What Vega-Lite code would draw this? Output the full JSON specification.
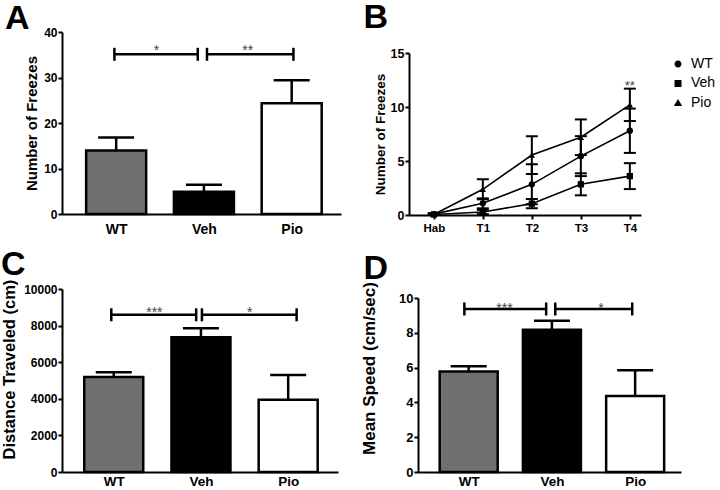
{
  "$schema": "https://vega.github.io/schema/vega-lite/v6.json",
  "padding": {"left": 1, "top": 1, "right": 0, "bottom": 0},
  "spacing": 11,
  "resolve": {"scale": {"shape": "independent"}, "legend": {"shape": "independent"}},
  "config": {
    "view": {"stroke": null},
    "font": "Liberation Sans",
    "title": {"fontSize": 34, "fontWeight": "bold", "anchor": "start", "frame": "group", "color": "black", "font": "Liberation Sans"},
    "axis": {"grid": false, "labelOverlap": false, "labelSeparation": 0, "domainColor": "black", "domainWidth": 2, "tickColor": "black", "tickWidth": 2, "tickSize": 4, "labelColor": "black", "labelFont": "Liberation Sans", "labelFontWeight": "bold", "titleColor": "black", "titleFont": "Liberation Sans", "titleFontWeight": "bold", "labelPadding": 1},
    "axisY": {"labelOverlap": false},
    "legend": {"labelFont": "Liberation Sans"}
  },
  "vconcat": [
    {
      "spacing": 22,
      "resolve": {"scale": {"shape": "independent"}, "legend": {"shape": "independent"}},
      "hconcat": [
        {
          "title": {"text": "A", "dx": -57, "offset": -10},
          "width": 279, "height": 182,
          "data": {"values": [
            {"group": "WT", "idx": 1, "mean": 13.95, "hi": 16.8},
            {"group": "Veh", "idx": 2, "mean": 4.9, "hi": 6.43},
            {"group": "Pio", "idx": 3, "mean": 24.35, "hi": 29.4}
          ]},
          "layer": [
            {"mark": {"type": "bar", "orient": "vertical", "width": 60, "stroke": "black", "strokeWidth": 2.5},
             "encoding": {
               "x": {"field": "idx", "type": "quantitative", "title": null, "scale": {"domain": [0.44, 3.505], "nice": false, "zero": false},
                     "axis": {"values": [1, 2, 3], "tickCount": 10, "labelExpr": "datum.value == 1 ? 'WT' : datum.value == 2 ? 'Veh' : 'Pio'", "ticks": false, "labelFontSize": 14, "labelPadding": 8}},
               "y": {"field": "mean", "type": "quantitative", "stack": null, "title": "Number of Freezes", "scale": {"domain": [0, 40], "nice": false},
                     "axis": {"values": [0, 10, 20, 30, 40], "tickCount": 10, "titleFontSize": 15, "labelFontSize": 12, "titlePadding": 4}},
               "fill": {"field": "group", "type": "nominal", "scale": {"domain": ["WT", "Veh", "Pio"], "range": ["#707070", "#000000", "#ffffff"]}, "legend": null}
             }},
            {"mark": {"type": "rule", "strokeWidth": 2.5, "color": "black"},
             "encoding": {"x": {"field": "idx", "type": "quantitative", "title": null}, "y": {"field": "mean", "type": "quantitative", "title": "Number of Freezes"}, "y2": {"field": "hi"}}},
            {"mark": {"type": "tick", "orient": "horizontal", "size": 36, "thickness": 2.5, "color": "black", "opacity": 1},
             "encoding": {"x": {"field": "idx", "type": "quantitative", "title": null}, "y": {"field": "hi", "type": "quantitative", "title": "Number of Freezes"}}},
            {"data": {"values": [
              {"x1": 0.98, "x2": 1.93, "xs": 1.46, "y": 35.1, "label": "*"},
              {"x1": 2.035, "x2": 3.02, "xs": 2.5, "y": 35.1, "label": "**"}
             ]},
             "layer": [
               {"mark": {"type": "rule", "strokeWidth": 2.5, "color": "black"},
                "encoding": {"x": {"field": "x1", "type": "quantitative", "title": null}, "x2": {"field": "x2"}, "y": {"field": "y", "type": "quantitative", "title": "Number of Freezes"}}},
               {"mark": {"type": "tick", "orient": "vertical", "size": 13, "thickness": 2.5, "color": "black", "opacity": 1},
                "encoding": {"x": {"field": "x1", "type": "quantitative", "title": null}, "y": {"field": "y", "type": "quantitative", "title": "Number of Freezes"}}},
               {"mark": {"type": "tick", "orient": "vertical", "size": 13, "thickness": 2.5, "color": "black", "opacity": 1},
                "encoding": {"x": {"field": "x2", "type": "quantitative", "title": null}, "y": {"field": "y", "type": "quantitative", "title": "Number of Freezes"}}},
               {"mark": {"type": "text", "fontSize": 14, "color": "#444444", "baseline": "alphabetic", "dy": 1},
                "encoding": {"x": {"field": "xs", "type": "quantitative", "title": null}, "y": {"field": "y", "type": "quantitative", "title": "Number of Freezes"}, "text": {"field": "label"}}}
             ]}
          ]
        },
        {
          "spacing": 0,
          "resolve": {"scale": {"shape": "independent"}, "legend": {"shape": "independent"}},
          "vconcat": [
            {
              "title": {"text": "B", "dx": -45.5, "offset": -3},
              "width": 232, "height": 14.5,
              "data": {"values": []},
              "mark": "point",
              "encoding": {}
            },
            {
              "width": 232, "height": 162,
              "resolve": {"scale": {"shape": "independent"}, "legend": {"shape": "independent"}},
              "data": {"values": [
                {"group": "WT", "time": "Hab", "mean": 0.08, "lo": 0.0, "hi": 0.16},
                {"group": "WT", "time": "T1", "mean": 1.08, "lo": 0.62, "hi": 1.54},
                {"group": "WT", "time": "T2", "mean": 2.84, "lo": 0.99, "hi": 4.69},
                {"group": "WT", "time": "T3", "mean": 5.45, "lo": 3.6, "hi": 7.3},
                {"group": "WT", "time": "T4", "mean": 7.8, "lo": 5.75, "hi": 9.85},
                {"group": "Veh", "time": "Hab", "mean": 0.05, "lo": 0.0, "hi": 0.12},
                {"group": "Veh", "time": "T1", "mean": 0.28, "lo": 0.08, "hi": 0.48},
                {"group": "Veh", "time": "T2", "mean": 1.05, "lo": 0.63, "hi": 1.47},
                {"group": "Veh", "time": "T3", "mean": 2.84, "lo": 1.82, "hi": 3.86},
                {"group": "Veh", "time": "T4", "mean": 3.6, "lo": 2.4, "hi": 4.8},
                {"group": "Pio", "time": "Hab", "mean": 0.05, "lo": 0.0, "hi": 0.15},
                {"group": "Pio", "time": "T1", "mean": 2.38, "lo": 1.45, "hi": 3.31},
                {"group": "Pio", "time": "T2", "mean": 5.55, "lo": 3.8, "hi": 7.3},
                {"group": "Pio", "time": "T3", "mean": 7.2, "lo": 5.55, "hi": 8.85},
                {"group": "Pio", "time": "T4", "mean": 10.2, "lo": 8.7, "hi": 11.7}
              ]},
              "layer": [
                {"mark": {"type": "rule", "strokeWidth": 2, "color": "black"},
                 "encoding": {
                   "x": {"field": "time", "type": "ordinal", "sort": ["Hab", "T1", "T2", "T3", "T4"], "title": null,
                         "scale": {"type": "point", "padding": 0.367, "align": 0.69},
                         "axis": {"labelFontSize": 11.5, "labelPadding": 3, "tickSize": 4, "labelAngle": 0}},
                   "y": {"field": "lo", "type": "quantitative", "title": "Number of Freezes", "scale": {"domain": [0, 15], "nice": false},
                         "axis": {"values": [0, 5, 10, 15], "tickCount": 10, "titleFontSize": 13.5, "labelFontSize": 12.5, "titlePadding": 3}},
                   "y2": {"field": "hi"}}},
                {"mark": {"type": "tick", "orient": "horizontal", "size": 12, "thickness": 2, "color": "black", "opacity": 1},
                 "encoding": {"x": {"field": "time", "type": "ordinal", "title": null}, "y": {"field": "lo", "type": "quantitative", "title": "Number of Freezes"}}},
                {"mark": {"type": "tick", "orient": "horizontal", "size": 12, "thickness": 2, "color": "black", "opacity": 1},
                 "encoding": {"x": {"field": "time", "type": "ordinal", "title": null}, "y": {"field": "hi", "type": "quantitative", "title": "Number of Freezes"}}},
                {"mark": {"type": "line", "strokeWidth": 1.6, "color": "black"},
                 "encoding": {"x": {"field": "time", "type": "ordinal", "title": null}, "y": {"field": "mean", "type": "quantitative", "title": "Number of Freezes"}, "detail": {"field": "group"}}},
                {"mark": {"type": "point", "filled": true, "color": "black", "opacity": 1, "size": 40},
                 "encoding": {
                   "x": {"field": "time", "type": "ordinal", "title": null},
                   "y": {"field": "mean", "type": "quantitative", "title": "Number of Freezes"},
                   "shape": {"field": "group", "type": "nominal", "scale": {"domain": ["WT", "Veh", "Pio"], "range": ["circle", "square", "triangle-up"]}, "legend": null}
                 }},
                {"mark": {"type": "point", "fill": "black", "stroke": "black", "strokeWidth": 1.5, "opacity": 0, "size": 40},
                 "encoding": {
                   "x": {"field": "time", "type": "ordinal", "title": null},
                   "y": {"field": "mean", "type": "quantitative", "title": "Number of Freezes"},
                   "shape": {"field": "group", "type": "nominal",
                     "scale": {"domain": ["WT", "Veh", "Pio"], "range": ["M-1,0H1M-0.5,0A0.5,0.5,0,1,0,0.5,0A0.5,0.5,0,1,0,-0.5,0Z", "M-1,0H1M-0.5,-0.5H0.5V0.5H-0.5Z", "M-1,0H1M0,-0.55L0.6,0.45L-0.6,0.45Z"]},
                     "legend": {"title": null, "orient": "none", "legendX": 261, "legendY": 3, "padding": 0, "symbolSize": 196, "symbolStrokeWidth": 1.5, "symbolFillColor": "black", "symbolStrokeColor": "black", "symbolOpacity": 1, "labelFontSize": 14, "labelColor": "black", "labelOffset": 5, "rowPadding": 4.4,
                       "encode": {"symbols": {"update": {"stroke": {"value": "black"}, "strokeWidth": {"value": 1.5}, "fill": {"value": "black"}, "opacity": {"value": 1}}}}}}
                 }},
                {"data": {"values": [{"time": "T4", "y": 11.6, "label": "**"}]},
                 "mark": {"type": "text", "fontSize": 13, "color": "#444444", "baseline": "alphabetic", "dy": 0},
                 "encoding": {"x": {"field": "time", "type": "ordinal", "title": null}, "y": {"field": "y", "type": "quantitative", "title": "Number of Freezes"}, "text": {"field": "label"}}}
              ]
            }
          ]
        }
      ]
    },
    {
      "spacing": 22,
      "hconcat": [
        {
          "spacing": 0,
          "vconcat": [
            {
              "width": 276, "height": 1,
              "data": {"values": []},
              "mark": "point",
              "encoding": {}
            },
            {
              "title": {"text": "C", "dx": -61, "offset": -3},
              "width": 276, "height": 183,
              "data": {"values": [
                {"group": "WT", "idx": 1, "mean": 5190, "hi": 5450},
                {"group": "Veh", "idx": 2, "mean": 7370, "hi": 7860},
                {"group": "Pio", "idx": 3, "mean": 3950, "hi": 5300}
              ]},
              "layer": [
                {"mark": {"type": "bar", "orient": "vertical", "width": 59, "stroke": "black", "strokeWidth": 2.5},
                 "encoding": {
                   "x": {"field": "idx", "type": "quantitative", "title": null, "scale": {"domain": [0.464, 3.514], "nice": false, "zero": false},
                         "axis": {"values": [1, 2, 3], "tickCount": 10, "labelExpr": "datum.value == 1 ? 'WT' : datum.value == 2 ? 'Veh' : 'Pio'", "ticks": false, "labelFontSize": 13.5, "labelPadding": 2}},
                   "y": {"field": "mean", "type": "quantitative", "stack": null, "title": "Distance Traveled (cm)", "scale": {"domain": [0, 10000], "nice": false},
                         "axis": {"values": [0, 2000, 4000, 6000, 8000, 10000], "tickCount": 10, "format": "d", "labelOverlap": false, "titleFontSize": 16.5, "labelFontSize": 12, "titlePadding": 6, "titleY": 80}},
                   "fill": {"field": "group", "type": "nominal", "scale": {"domain": ["WT", "Veh", "Pio"], "range": ["#707070", "#000000", "#ffffff"]}, "legend": null}
                 }},
                {"mark": {"type": "rule", "strokeWidth": 2.5, "color": "black"},
                 "encoding": {"x": {"field": "idx", "type": "quantitative", "title": null}, "y": {"field": "mean", "type": "quantitative", "title": "Distance Traveled (cm)"}, "y2": {"field": "hi"}}},
                {"mark": {"type": "tick", "orient": "horizontal", "size": 36, "thickness": 2.5, "color": "black", "opacity": 1},
                 "encoding": {"x": {"field": "idx", "type": "quantitative", "title": null}, "y": {"field": "hi", "type": "quantitative", "title": "Distance Traveled (cm)"}}},
                {"data": {"values": [
                  {"x1": 0.972, "x2": 1.945, "xs": 1.466, "y": 8590, "label": "***"},
                  {"x1": 2.011, "x2": 3.097, "xs": 2.56, "y": 8590, "label": "*"}
                 ]},
                 "layer": [
                   {"mark": {"type": "rule", "strokeWidth": 2.5, "color": "black"},
                    "encoding": {"x": {"field": "x1", "type": "quantitative", "title": null}, "x2": {"field": "x2"}, "y": {"field": "y", "type": "quantitative", "title": "Distance Traveled (cm)"}}},
                   {"mark": {"type": "tick", "orient": "vertical", "size": 13, "thickness": 2.5, "color": "black", "opacity": 1},
                    "encoding": {"x": {"field": "x1", "type": "quantitative", "title": null}, "y": {"field": "y", "type": "quantitative", "title": "Distance Traveled (cm)"}}},
                   {"mark": {"type": "tick", "orient": "vertical", "size": 13, "thickness": 2.5, "color": "black", "opacity": 1},
                    "encoding": {"x": {"field": "x2", "type": "quantitative", "title": null}, "y": {"field": "y", "type": "quantitative", "title": "Distance Traveled (cm)"}}},
                   {"mark": {"type": "text", "fontSize": 14, "color": "#444444", "baseline": "alphabetic", "dy": 2},
                    "encoding": {"x": {"field": "xs", "type": "quantitative", "title": null}, "y": {"field": "y", "type": "quantitative", "title": "Distance Traveled (cm)"}, "text": {"field": "label"}}}
                 ]}
              ]
            }
          ]
        },
        {
          "spacing": 0,
          "vconcat": [
            {
              "width": 263, "height": 5,
              "data": {"values": []},
              "mark": "point",
              "encoding": {}
            },
            {
              "title": {"text": "D", "dx": -54.5, "offset": -4.5},
              "width": 263, "height": 174,
              "data": {"values": [
                {"group": "WT", "idx": 1, "mean": 5.77, "hi": 6.08},
                {"group": "Veh", "idx": 2, "mean": 8.17, "hi": 8.69},
                {"group": "Pio", "idx": 3, "mean": 4.37, "hi": 5.85}
              ]},
              "layer": [
                {"mark": {"type": "bar", "orient": "vertical", "width": 58, "stroke": "black", "strokeWidth": 2.5},
                 "encoding": {
                   "x": {"field": "idx", "type": "quantitative", "title": null, "scale": {"domain": [0.451, 3.491], "nice": false, "zero": false},
                         "axis": {"values": [1, 2, 3], "tickCount": 10, "labelExpr": "datum.value == 1 ? 'WT' : datum.value == 2 ? 'Veh' : 'Pio'", "ticks": false, "labelFontSize": 13.5, "labelPadding": 2}},
                   "y": {"field": "mean", "type": "quantitative", "stack": null, "title": "Mean Speed (cm/sec)", "scale": {"domain": [0, 10], "nice": false},
                         "axis": {"values": [0, 2, 4, 6, 8, 10], "tickCount": 10, "labelOverlap": false, "titleFontSize": 17, "labelFontSize": 13, "titlePadding": 20, "titleY": 70}},
                   "fill": {"field": "group", "type": "nominal", "scale": {"domain": ["WT", "Veh", "Pio"], "range": ["#707070", "#000000", "#ffffff"]}, "legend": null}
                 }},
                {"mark": {"type": "rule", "strokeWidth": 2.5, "color": "black"},
                 "encoding": {"x": {"field": "idx", "type": "quantitative", "title": null}, "y": {"field": "mean", "type": "quantitative", "title": "Mean Speed (cm/sec)"}, "y2": {"field": "hi"}}},
                {"mark": {"type": "tick", "orient": "horizontal", "size": 36, "thickness": 2.5, "color": "black", "opacity": 1},
                 "encoding": {"x": {"field": "idx", "type": "quantitative", "title": null}, "y": {"field": "hi", "type": "quantitative", "title": "Mean Speed (cm/sec)"}}},
                {"data": {"values": [
                  {"x1": 0.948, "x2": 1.931, "xs": 1.43, "y": 9.37, "label": "***"},
                  {"x1": 2.04, "x2": 2.965, "xs": 2.59, "y": 9.37, "label": "*"}
                 ]},
                 "layer": [
                   {"mark": {"type": "rule", "strokeWidth": 2.5, "color": "black"},
                    "encoding": {"x": {"field": "x1", "type": "quantitative", "title": null}, "x2": {"field": "x2"}, "y": {"field": "y", "type": "quantitative", "title": "Mean Speed (cm/sec)"}}},
                   {"mark": {"type": "tick", "orient": "vertical", "size": 13, "thickness": 2.5, "color": "black", "opacity": 1},
                    "encoding": {"x": {"field": "x1", "type": "quantitative", "title": null}, "y": {"field": "y", "type": "quantitative", "title": "Mean Speed (cm/sec)"}}},
                   {"mark": {"type": "tick", "orient": "vertical", "size": 13, "thickness": 2.5, "color": "black", "opacity": 1},
                    "encoding": {"x": {"field": "x2", "type": "quantitative", "title": null}, "y": {"field": "y", "type": "quantitative", "title": "Mean Speed (cm/sec)"}}},
                   {"mark": {"type": "text", "fontSize": 14, "color": "#444444", "baseline": "alphabetic", "dy": 4},
                    "encoding": {"x": {"field": "xs", "type": "quantitative", "title": null}, "y": {"field": "y", "type": "quantitative", "title": "Mean Speed (cm/sec)"}, "text": {"field": "label"}}}
                 ]}
              ]
            }
          ]
        }
      ]
    }
  ]
}
